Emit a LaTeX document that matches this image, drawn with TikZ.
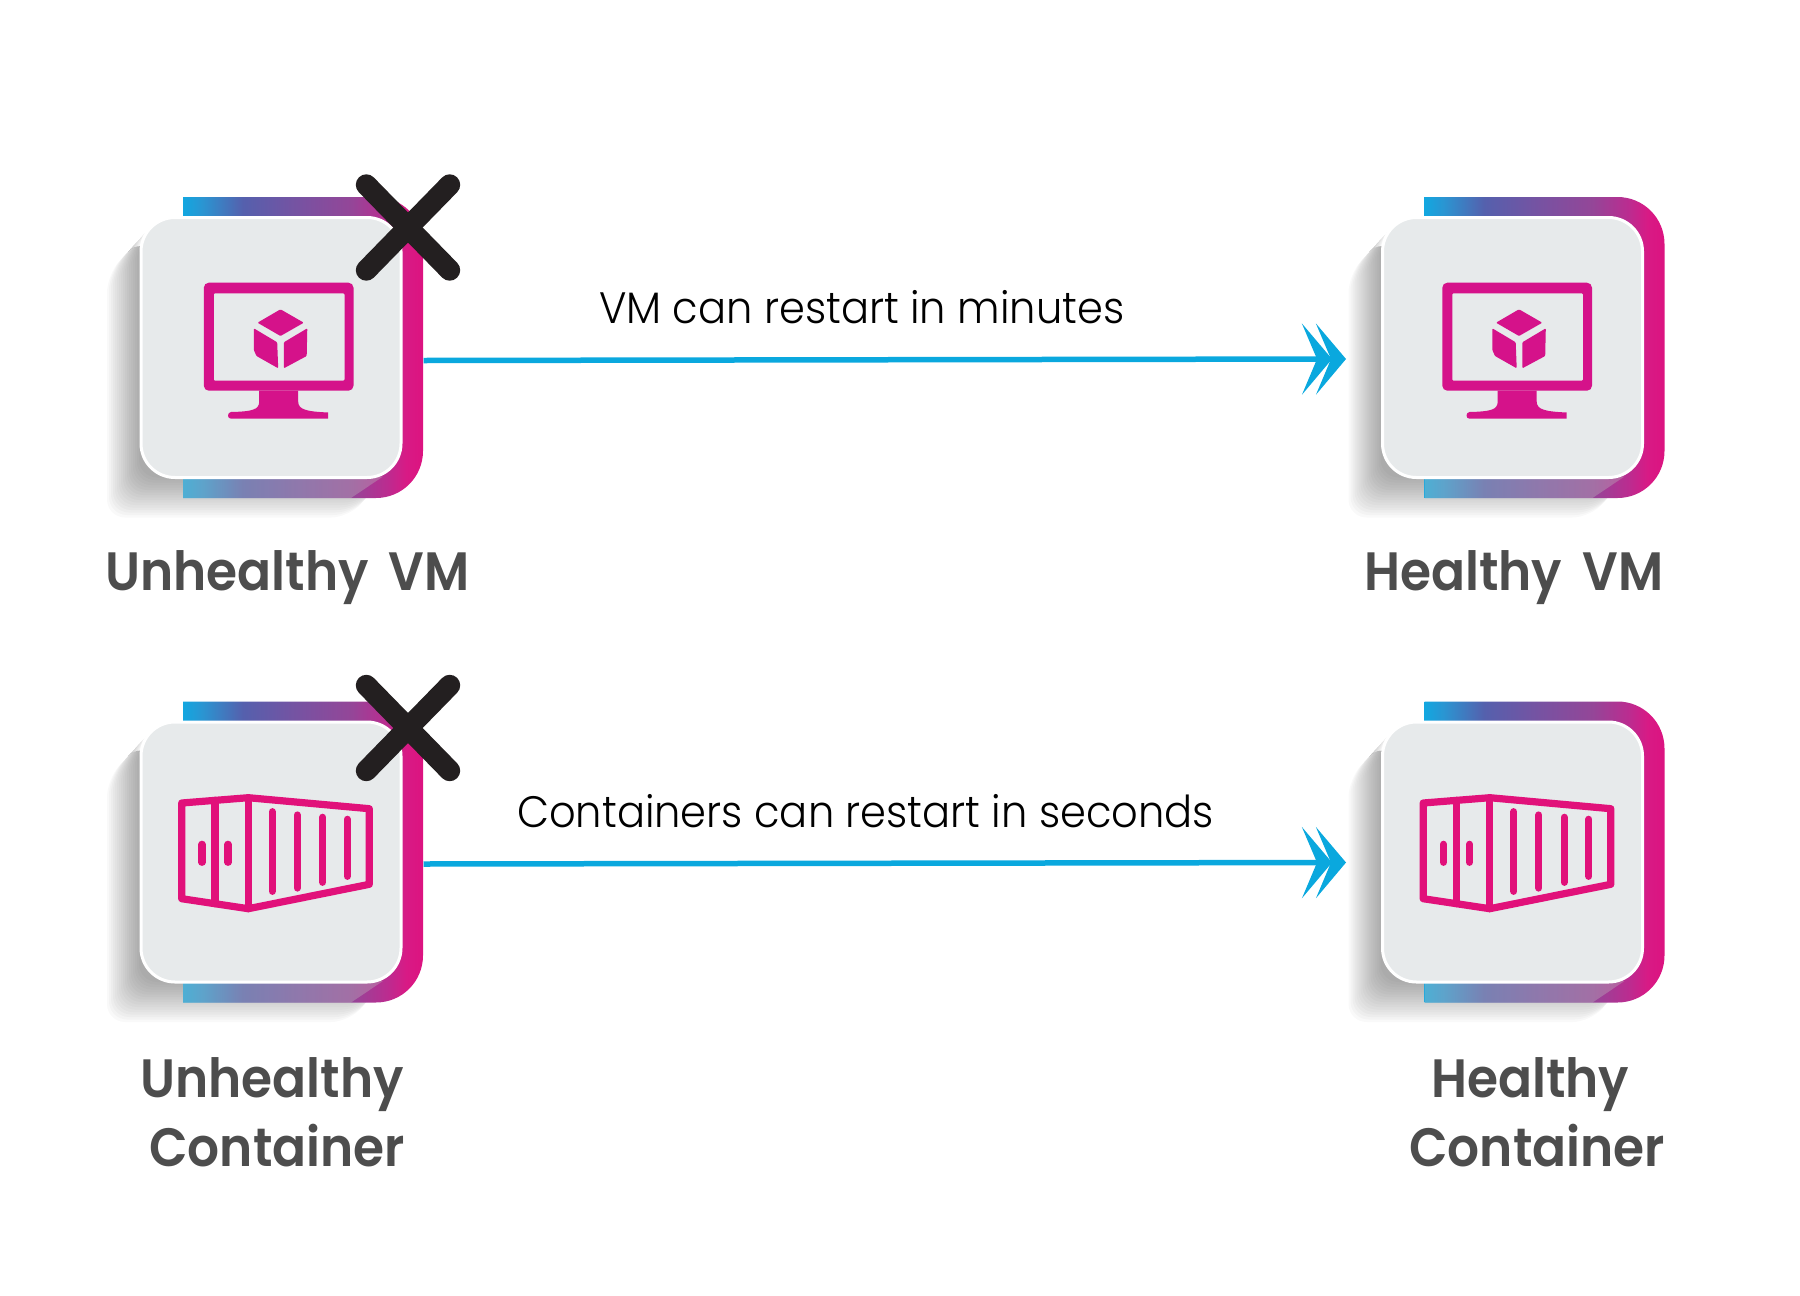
\documentclass[tikz,border=0pt]{standalone}
\usepackage{fontspec}
\setmainfont{Poppins}[UprightFont=* SemiBold,FakeStretch=0.93,WordSpace=1.7]
\newfontfamily\thinfont{Poppins Light}[FakeStretch=0.945]
\usetikzlibrary{arrows.meta}
\definecolor{iconpink}{HTML}{D5128A}
\definecolor{boxpink}{HTML}{E1117A}
\definecolor{cardgrey}{HTML}{E7EAEB}
\definecolor{flowblue}{HTML}{0AA8DE}
\definecolor{crossblack}{HTML}{231F20}
\definecolor{labelgrey}{HTML}{4D4D4D}
\definecolor{framea}{HTML}{12A7E0}
\definecolor{frameb}{HTML}{2A95D2}
\definecolor{framec}{HTML}{5560AD}
\definecolor{framed}{HTML}{7354A3}
\definecolor{framee}{HTML}{944698}
\definecolor{framef}{HTML}{BB2C90}
\definecolor{frameg}{HTML}{D81A85}
\definecolor{frameh}{HTML}{DC1380}
\pgfdeclarehorizontalshading{framefill}{100bp}{
    color(0bp)=(framea);
    color(25bp)=(framea);
    color(29bp)=(frameb);
    color(37.5bp)=(framec);
    color(47.5bp)=(framed);
    color(60bp)=(framee);
    color(67.5bp)=(framef);
    color(71.5bp)=(frameg);
    color(75bp)=(frameh);
    color(100bp)=(frameh)
}
\tikzset{
    cardface/.style={draw=white,line width=3pt,fill=cardgrey,minimum size=260pt,rounded corners=34pt},
    restartarrow/.style={draw=flowblue,line width=5.5pt,
        -{Stealth[length=30pt,width=71pt,inset=15pt,sep=-16pt]Stealth[length=30pt,width=71pt,inset=15pt]}},
    biglabel/.style={anchor=base west,inner sep=0pt,text=labelgrey,font=\fontsize{54}{54}\selectfont},
    thinlabel/.style={anchor=base west,inner sep=0pt,text=black,font=\thinfont\fontsize{44}{44}\selectfont}
}
\newcommand{\hostcard}[2]{
    \begin{scope}[shift={(#1)}]
        \foreach \s in {0,2,...,32}
            \fill[black,opacity=0.022,rounded corners=18pt] (-131,-109) -- ({-164+\s},{-109+(33-\s)*1.1})
                -- ({-164+\s},{170-1.25*\s}) -- ({112-(39-1.25*\s)*0.87},{170-1.25*\s}) -- (112,131) -- cycle;
        \shade[shading=framefill] (-88,-150.5) -- (105,-150.5) arc[start angle=-90,end angle=0,radius=47]
            -- (152,103.5) arc[start angle=0,end angle=90,radius=47] -- (-88,150.5) -- cycle;
        \fill[black!25,opacity=0.35] (-88,131) -- (-88,150.5) -- (80,150.5) -- (112,129) -- cycle;
        \node[cardface] (#2) at (0,0) {};
    \end{scope}
}
\newcommand{\monitoricon}[1]{
    \begin{scope}[shift={(#1)}]
        \fill[iconpink,even odd rule,rounded corners=5pt] (-67.2,-64.8) rectangle (82.5,43.2)
            [rounded corners=1pt] (-57.2,-54.2) rectangle (73.5,33.2);
        \fill[iconpink] (-11.8,43) -- (-11.8,54) .. controls (-11.8,62) and (-18,64) .. (-40,64.5)
            .. controls (-44,65) and (-44,71.2) .. (-40,71.2) -- (57.2,71.2) -- (57.2,65)
            .. controls (35,64) and (27.2,62) .. (27.2,54) -- (27.2,43) -- cycle;
        % cube
        \fill[iconpink,rounded corners=1pt] (9.5,-38.2) -- (-13.5,-24.8) -- (9.5,-11.5) -- (32.8,-24.8) -- cycle;
        \fill[iconpink,rounded corners=1pt] (-17.2,-19.2) -- (6.2,-5.2) -- (7.2,20.8) -- (-14.5,8.5) -- (-17.2,2.5) -- cycle;
        \fill[iconpink,rounded corners=1pt] (36.3,-19.2) -- (12.8,-5.2) -- (12.8,20.8) -- (35.7,8.5) -- cycle;
    \end{scope}
}
\newcommand{\boxicon}[1]{
    \begin{scope}[shift={(#1)},draw=boxpink,line width=7.2pt,line cap=round,line join=round]
        \draw (-89.3,-49) -- (-22.7,-54.3) -- (98.3,-43.3) -- (98.3,32.3) -- (-22.7,56.7) -- (-89.3,46.7) -- cycle;
        \draw (-56,-51.7) -- (-56,51.7);
        \draw (-22.7,-54.3) -- (-22.7,56.7);
        \draw (-69,-7.7) -- (-69,10.3);
        \draw (-43,-7.7) -- (-43,10.3);
        \draw (1.3,-40.3) -- (1.3,39.3);
        \draw (26.3,-37) -- (26.3,36);
        \draw (51.7,-34.7) -- (51.7,30.3);
        \draw (76.3,-32.7) -- (76.3,24.3);
    \end{scope}
}
\newcommand{\crossmark}[1]{
    \begin{scope}[shift={(#1)}]
        \draw[crossblack,line width=21pt,line cap=round] (-41.7,-42.7) -- (41.7,42.7);
        \draw[crossblack,line width=21pt,line cap=round] (-41.7,42.7) -- (41.7,-42.7);
    \end{scope}
}

\begin{document}
\begin{tikzpicture}[x=1pt,y=-1pt]
        \useasboundingbox (0,0) rectangle (1800,1296);

        \hostcard{271,347.5}{vmsick}
        \hostcard{1512.5,347.5}{vmfine}
        \hostcard{271,852}{boxsick}
        \hostcard{1512.5,852}{boxfine}

        \monitoricon{271,347.5}
        \monitoricon{1509.5,347.5}
        \boxicon{271,852}
        \boxicon{1512.5,852}

        \crossmark{408,227.5}
        \crossmark{408,728}

        \draw[restartarrow] ([xshift=21pt,yshift=-13pt]vmsick.east) -- ([xshift=-35pt,yshift=-11.5pt]vmfine.west);
        \draw[restartarrow] ([xshift=21pt,yshift=-12pt]boxsick.east) -- ([xshift=-35pt,yshift=-10.5pt]boxfine.west);

        \node[thinlabel] (vmtext) at (599,323.5) {VM can restart in minutes};
        \node[thinlabel] (boxtext) at (517,827) {Containers can restart in seconds};

        \node[biglabel] (vmsicklabel) at (105,590.7) {Unhealthy VM};
        \node[biglabel] (vmfinelabel) at (1364,590.7) {Healthy VM};
        \node[biglabel] (boxsicklabel) at (140,1097) {Unhealthy};
        \node[biglabel] (boxsicklower) at (149,1166) {Container};
        \node[biglabel] (boxfinelabel) at (1431,1097) {Healthy};
        \node[biglabel] (boxfinelower) at (1409,1166) {Container};
    \end{tikzpicture}
\end{document}
